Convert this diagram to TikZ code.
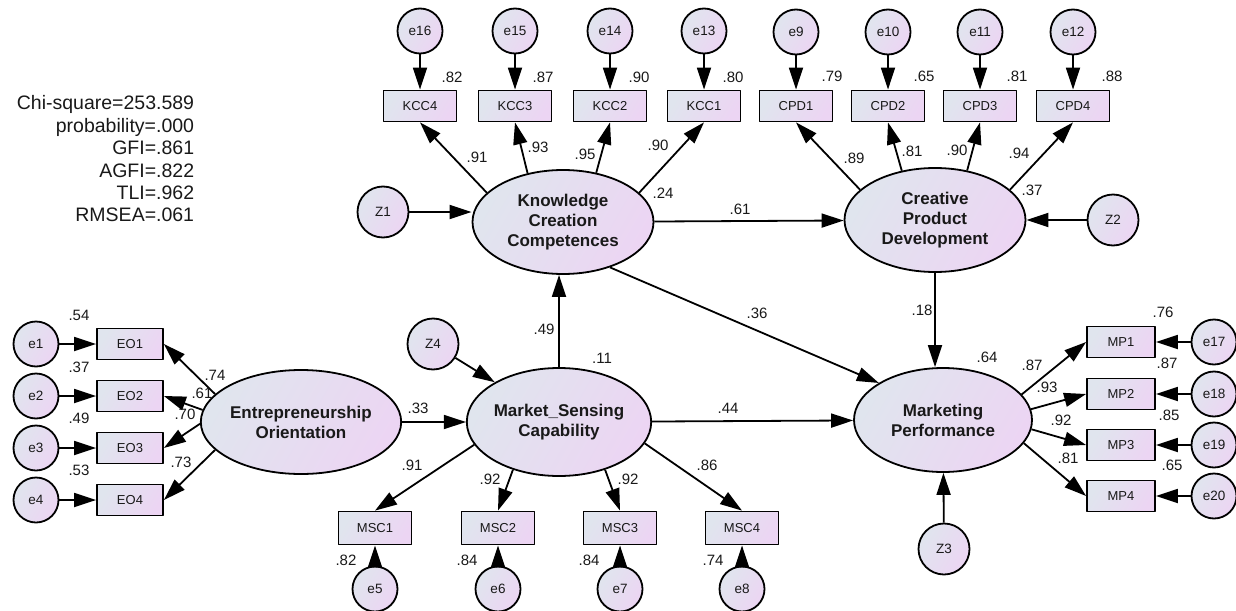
\documentclass[tikz,border=0pt]{standalone}
\usepackage{fontspec}
\setmainfont{Liberation Sans}
\usetikzlibrary{shapes.geometric,arrows.meta}
\definecolor{shadeL}{RGB}{224,229,238}
\definecolor{shadeR}{RGB}{236,213,243}
\definecolor{ink}{RGB}{25,25,25}

\begin{document}
\begin{tikzpicture}[x=1pt,y=-1pt,line width=1.8pt,line join=round,
  tint/.style={left color=shadeL,right color=shadeR,shading angle=60},
  latent/.style={ellipse,draw,tint,minimum width=181pt,minimum height=104pt,inner sep=0pt,align=center,text=ink,font=\fontsize{17}{20}\selectfont\bfseries},
  item/.style={rectangle,draw,tint,minimum width=73pt,minimum height=31pt,inner sep=0pt,text=ink,font=\fontsize{13}{15}\selectfont},
  err/.style={circle,draw,tint,minimum size=45pt,inner sep=0pt,text=ink,font=\fontsize{13.5}{15}\selectfont},
  dist/.style={err,minimum size=51pt},
  coef/.style={inner sep=0pt,text=ink,font=\fontsize{15}{17}\selectfont},
  arw/.style={-{Triangle[length=22pt,width=14pt]}}]
\useasboundingbox (0,0) rectangle (1236,610);

\node[anchor=east,align=right,inner sep=0pt,text=ink,font=\fontsize{19.5}{22.4}\selectfont] (fit) at (195,159)
  {Chi-square=253.589\\probability=.000\\GFI=.861\\AGFI=.822\\TLI=.962\\RMSEA=.061};

% latent variables
\node[latent] (kcc) at (563,222) {Knowledge\\Creation\\Competences};
\node[latent] (cpd) at (935,220) {Creative\\Product\\Development};
\node[latent,minimum width=173pt] (eo) at (301,422) {Entrepreneurship\\Orientation};
\node[latent,minimum height=108pt] (msc) at (559,422) {Market\_Sensing\\Capability};
\node[latent,minimum width=178pt] (mp) at (943,420) {Marketing\\Performance};

% indicators
\node[item] (kcc4) at (420,106) {KCC4};
\node[item] (kcc3) at (515,106) {KCC3};
\node[item] (kcc2) at (610,106) {KCC2};
\node[item] (kcc1) at (704,106) {KCC1};
\node[item] (cpd1) at (796,106) {CPD1};
\node[item] (cpd2) at (888,106) {CPD2};
\node[item] (cpd3) at (980,106) {CPD3};
\node[item] (cpd4) at (1073,106) {CPD4};
\node[item,minimum width=66pt] (eo1) at (130,344) {EO1};
\node[item,minimum width=66pt] (eo2) at (130,396) {EO2};
\node[item,minimum width=66pt] (eo3) at (130,448) {EO3};
\node[item,minimum width=66pt] (eo4) at (130,500) {EO4};
\node[item,minimum height=33pt] (msc1) at (375,528) {MSC1};
\node[item,minimum height=33pt] (msc2) at (498,528) {MSC2};
\node[item,minimum height=33pt] (msc3) at (620,528) {MSC3};
\node[item,minimum height=33pt] (msc4) at (742,528) {MSC4};
\node[item,minimum width=68pt] (mp1) at (1121,342) {MP1};
\node[item,minimum width=68pt] (mp2) at (1121,394) {MP2};
\node[item,minimum width=68pt] (mp3) at (1121,445) {MP3};
\node[item,minimum width=68pt] (mp4) at (1121,496) {MP4};

% errors and disturbances
\node[err] (e16) at (420,31) {e16};
\node[err] (e15) at (515,31) {e15};
\node[err] (e14) at (610,31) {e14};
\node[err] (e13) at (704,31) {e13};
\node[err] (e9) at (796,32) {e9};
\node[err] (e10) at (888,32) {e10};
\node[err] (e11) at (980,32) {e11};
\node[err] (e12) at (1073,32) {e12};
\node[err] (e1) at (36,344) {e1};
\node[err] (e2) at (36,396) {e2};
\node[err] (e3) at (36,448) {e3};
\node[err] (e4) at (36,500) {e4};
\node[err] (e5) at (375,589) {e5};
\node[err] (e6) at (498,589) {e6};
\node[err] (e7) at (620,589) {e7};
\node[err] (e8) at (742,589) {e8};
\node[err] (e17) at (1214,342) {e17};
\node[err] (e18) at (1214,394) {e18};
\node[err] (e19) at (1214,445) {e19};
\node[err] (e20) at (1214,496) {e20};
\node[dist] (z1) at (383,212) {Z1};
\node[dist] (z2) at (1113,220) {Z2};
\node[dist] (z3) at (944,549) {Z3};
\node[dist] (z4) at (433,344) {Z4};

\draw[arw] (e16) -- (kcc4);
\draw[arw] (e15) -- (kcc3);
\draw[arw] (e14) -- (kcc2);
\draw[arw] (e13) -- (kcc1);
\draw[arw] (e9) -- (cpd1);
\draw[arw] (e10) -- (cpd2);
\draw[arw] (e11) -- (cpd3);
\draw[arw] (e12) -- (cpd4);
\draw[arw] (e1) -- (eo1);
\draw[arw] (e2) -- (eo2);
\draw[arw] (e3) -- (eo3);
\draw[arw] (e4) -- (eo4);
\draw[arw] (e5) -- (msc1);
\draw[arw] (e6) -- (msc2);
\draw[arw] (e7) -- (msc3);
\draw[arw] (e8) -- (msc4);
\draw[arw] (e17) -- (mp1);
\draw[arw] (e18) -- (mp2);
\draw[arw] (e19) -- (mp3);
\draw[arw] (e20) -- (mp4);

\draw[arw] (kcc.159) -- (kcc4.south);
\draw[arw] (kcc.126) -- (kcc3.south);
\draw[arw] (kcc.56) -- (kcc2.south);
\draw[arw] (kcc.21) -- (kcc1.south);
\draw[arw] (cpd.158) -- (cpd1.south);
\draw[arw] (cpd.124) -- (cpd2.south);
\draw[arw] (cpd.57) -- (cpd3.south);
\draw[arw] (cpd.22) -- (cpd4.south);
\draw[arw] (eo.162) -- (eo1.east);
\draw[arw] (eo.173) -- (eo2.east);
\draw[arw] (eo.181) -- (eo3.east);
\draw[arw] (eo.198) -- (eo4.east);
\draw[arw] (msc.195) -- (msc1.north);
\draw[arw] (msc.226) -- (msc2.north);
\draw[arw] (msc.314) -- (msc3.north);
\draw[arw] (msc.346) -- (msc4.north);
\draw[arw] (mp.18) -- (mp1.west);
\draw[arw] (mp.7) -- (mp2.west);
\draw[arw] (mp.-6) -- (mp3.west);
\draw[arw] (mp.-16) -- (mp4.west);

\draw[arw] (z1) -- (z1 -| kcc.west);
\draw[arw] (z2) -- (cpd);
\draw[arw] (z3) -- (mp);
\draw[arw] (z4) -- (msc);
\draw[arw] (kcc) -- (cpd);
\draw[arw] (msc.north) -- (msc.north |- kcc.south);
\draw[arw] (kcc.-44) -- (mp.150);
\draw[arw] (cpd.south) -- (cpd.south |- mp.north);
\draw[arw] (eo) -- (msc);
\draw[arw] (msc) -- (mp);

% estimates
\node[coef] (skcc4) at (452,77) {.82};
\node[coef] (skcc3) at (543,77) {.87};
\node[coef] (skcc2) at (639,77) {.90};
\node[coef] (skcc1) at (733,77) {.80};
\node[coef] (lkcc4) at (477,157) {.91};
\node[coef] (lkcc3) at (538,147) {.93};
\node[coef] (lkcc2) at (585,154) {.95};
\node[coef] (lkcc1) at (658,145) {.90};
\node[coef] (rkcc) at (663,193) {.24};
\node[coef] (scpd1) at (832,76) {.79};
\node[coef] (scpd2) at (924,76) {.65};
\node[coef] (scpd3) at (1017,76) {.81};
\node[coef] (scpd4) at (1112,76) {.88};
\node[coef] (lcpd1) at (854,158) {.89};
\node[coef] (lcpd2) at (912,151) {.81};
\node[coef] (lcpd3) at (957,150) {.90};
\node[coef] (lcpd4) at (1019,153) {.94};
\node[coef] (rcpd) at (1032,190) {.37};
\node[coef] (bkc) at (740,209) {.61};
\node[coef] (seo1) at (79,315) {.54};
\node[coef] (seo2) at (79,367) {.37};
\node[coef] (seo3) at (79,418) {.49};
\node[coef] (seo4) at (79,470) {.53};
\node[coef] (leo1) at (215,375) {.74};
\node[coef] (leo2) at (202,393) {.61};
\node[coef] (leo3) at (185,414) {.70};
\node[coef] (leo4) at (181,462) {.73};
\node[coef] (bem) at (418,408) {.33};
\node[coef] (bmp) at (728,408) {.44};
\node[coef] (smsc1) at (346,560) {.82};
\node[coef] (smsc2) at (467,560) {.84};
\node[coef] (smsc3) at (589,560) {.84};
\node[coef] (smsc4) at (713,560) {.74};
\node[coef] (lmsc1) at (412,465) {.91};
\node[coef] (lmsc2) at (490,479) {.92};
\node[coef] (lmsc3) at (628,479) {.92};
\node[coef] (lmsc4) at (707,465) {.86};
\node[coef] (bmk) at (544,329) {.49};
\node[coef] (rmsc) at (602,358) {.11};
\node[coef] (bkp) at (757,313) {.36};
\node[coef] (bcp) at (922,310) {.18};
\node[coef] (rmp) at (987,357) {.64};
\node[coef] (smp1) at (1163,312) {.76};
\node[coef] (smp2) at (1167,363) {.87};
\node[coef] (smp3) at (1169,415) {.85};
\node[coef] (smp4) at (1172,465) {.65};
\node[coef] (lmp1) at (1032,365) {.87};
\node[coef] (lmp2) at (1047,387) {.93};
\node[coef] (lmp3) at (1061,420) {.92};
\node[coef] (lmp4) at (1068,458) {.81};
\end{tikzpicture}
\end{document}
